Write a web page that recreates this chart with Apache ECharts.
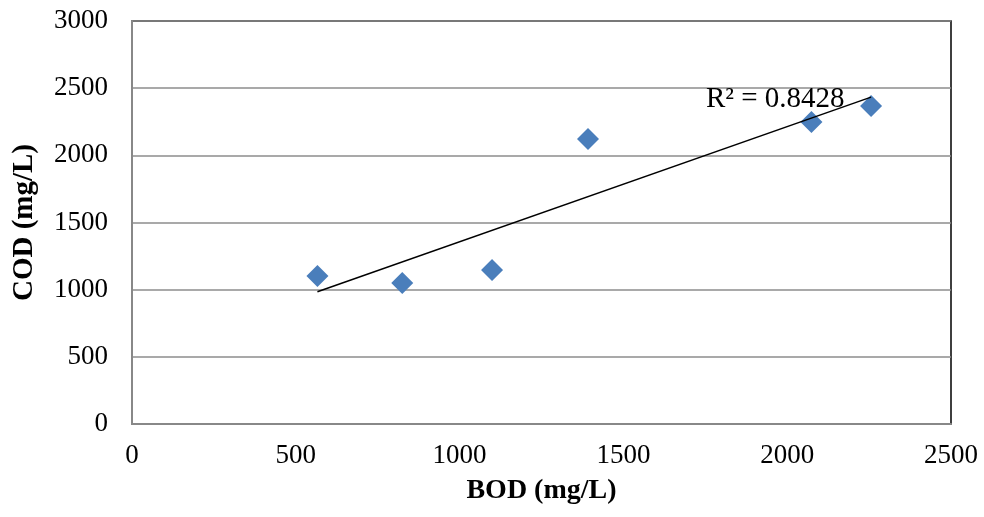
<!DOCTYPE html>
<html>
<head>
<meta charset="utf-8">
<script src="https://cdn.jsdelivr.net/npm/echarts@6/dist/echarts.min.js"></script>
<style>
html,body{margin:0;padding:0;background:#fff;}
#chart{width:984px;height:517px;}
</style>
</head>
<body>
<div id="chart"></div>
<script>
const bod = [566, 825, 1099, 1392, 2074, 2256];
const cod = [1102, 1050, 1146, 2122, 2248, 2367];
const xTitle = 'BOD (mg/L)';
const yTitle = 'COD (mg/L)';

const n = bod.length;
const mx = bod.reduce((a, b) => a + b, 0) / n;
const my = cod.reduce((a, b) => a + b, 0) / n;
let sxy = 0, sxx = 0, syy = 0;
for (let i = 0; i < n; i++) {
  sxy += (bod[i] - mx) * (cod[i] - my);
  sxx += (bod[i] - mx) ** 2;
  syy += (cod[i] - my) ** 2;
}
const slope = sxy / sxx;
const intercept = my - slope * mx;
const r2 = (sxy * sxy) / (sxx * syy);
const xMin = Math.min(...bod), xMax = Math.max(...bod);
const trend = [[xMin, intercept + slope * xMin], [xMax, intercept + slope * xMax]];
const r2Text = 'R² = ' + r2.toFixed(4);

const font = 'Liberation Serif';
const plain = v => String(v);
const chart = echarts.init(document.getElementById('chart'));
chart.setOption({
  animation: false,
  backgroundColor: '#fff',
  grid: { left: 132, right: 33, top: 21, bottom: 93, show: true, borderColor: '#000', borderWidth: 1.5, backgroundColor: 'transparent' },
  xAxis: {
    type: 'value', min: 0, max: 2500, interval: 500,
    name: xTitle, nameLocation: 'middle', nameGap: 53,
    nameTextStyle: { fontFamily: font, fontSize: 28, fontWeight: 'bold', color: '#000' },
    axisLine: { show: true, lineStyle: { color: '#888', width: 2 } },
    axisTick: { show: false },
    splitLine: { show: false },
    axisLabel: { fontFamily: font, fontSize: 27, color: '#000', margin: 18, formatter: plain }
  },
  yAxis: {
    type: 'value', min: 0, max: 3000, interval: 500,
    name: yTitle, nameLocation: 'middle', nameGap: 93,
    nameTextStyle: { fontFamily: font, fontSize: 29, fontWeight: 'bold', color: '#000' },
    axisLine: { show: true, lineStyle: { color: '#888', width: 2 } },
    axisTick: { show: false },
    splitLine: { show: true, lineStyle: { color: '#8c8c8c', width: 1.5 } },
    axisLabel: { fontFamily: font, fontSize: 27, color: '#000', margin: 24, formatter: plain }
  },
  series: [
    {
      type: 'line',
      data: trend,
      symbol: 'none',
      lineStyle: { color: '#000', width: 1.5 },
      z: 3,
      markPoint: {
        symbol: 'circle',
        symbolSize: 1,
        itemStyle: { color: 'rgba(0,0,0,0)' },
        data: [{ coord: trend[1], name: 'r2' }],
        label: {
          show: true, position: 'left', distance: 26, offset: [0, 2],
          formatter: r2Text,
          fontFamily: font, fontSize: 29, color: '#000'
        }
      }
    },
    {
      type: 'scatter',
      data: bod.map((x, i) => [x, cod[i]]),
      symbol: 'diamond',
      symbolSize: [22, 22],
      itemStyle: { color: '#4a7ebb', opacity: 1 },
      z: 2
    }
  ]
});
</script>
</body>
</html>
